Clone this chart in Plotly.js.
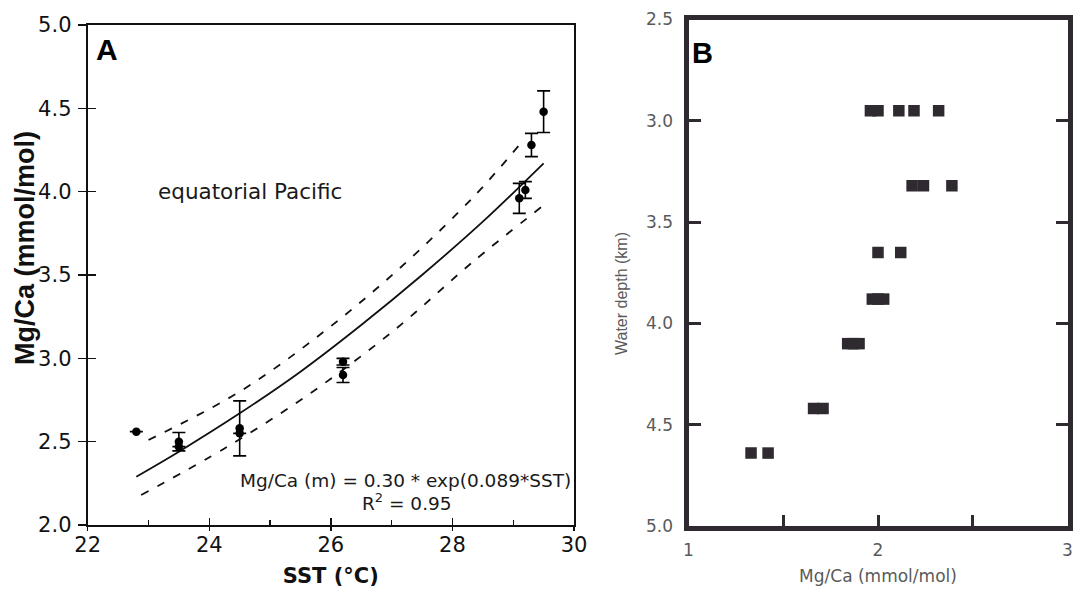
<!DOCTYPE html>
<html>
<head>
<meta charset="utf-8">
<script src="https://cdn.plot.ly/plotly-3.0.1.min.js"></script>
<style>html,body{margin:0;padding:0;background:#fff;}#chart{width:1075px;height:596px;}</style>
</head>
<body>
<div id="chart"></div>
<script>
// ---- Panel A: core-top Mg/Ca vs SST (equatorial Pacific) ----
const sst      = [22.8, 23.5, 23.5, 24.5, 24.5, 26.2, 26.2, 29.1, 29.2, 29.3, 29.5];
const mgca     = [2.56, 2.50, 2.47, 2.58, 2.55, 2.98, 2.90, 3.96, 4.01, 4.28, 4.48];
const mgcaErr  = [null, 0.055, null, 0.165, null, 0.02, 0.045, 0.09, 0.05, 0.07, 0.125];

// calibration curve and its bounds
const fitSst     = [22.8, 23.5, 24.5, 25.5, 26.5, 27.5, 28.5, 29.5];
const fitMgca    = [2.29, 2.44, 2.67, 2.92, 3.20, 3.50, 3.82, 4.17];
const upperSst   = [23.0, 24.5, 25.85, 27.1, 28.35, 29.1];
const upperMgca  = [2.51, 2.80, 3.15, 3.53, 3.97, 4.28];
const lowerSst   = [22.88, 24.3, 25.7, 27.08, 28.34, 29.47];
const lowerMgca  = [2.18, 2.47, 2.80, 3.18, 3.58, 3.91];

// ---- Panel B: Mg/Ca vs water depth ----
const coreMgCa  = [1.96, 2.00, 2.11, 2.19, 2.32,
                   2.18, 2.24, 2.39,
                   2.00, 2.12,
                   1.97, 2.00, 2.03,
                   1.84, 1.87, 1.90,
                   1.66, 1.71,
                   1.33, 1.42];
const coreDepth = [2.95, 2.95, 2.95, 2.95, 2.95,
                   3.32, 3.32, 3.32,
                   3.65, 3.65,
                   3.88, 3.88, 3.88,
                   4.10, 4.10, 4.10,
                   4.42, 4.42,
                   4.64, 4.64];

const xTicksA = [22, 24, 26, 28, 30];
const yTicksA = [2.0, 2.5, 3.0, 3.5, 4.0, 4.5, 5.0];
const xTicksB = [1, 2, 3];
const yTicksB = [2.5, 3.0, 3.5, 4.0, 4.5, 5.0];

const W = 1075, H = 596;
const px = v => v / W;
const py = v => (H - v) / H;

const INK = '#111111';
const INKB = '#2e2a30';
const GREY = '#5a5a5a';

const domXA = [px(87.7), px(574)];
const domYA = [py(525), py(25)];
const rangeXA = [22, 30];
const rangeYA = [2, 5];

const traces = [
  {x: fitSst, y: fitMgca, xaxis: 'x', yaxis: 'y', mode: 'lines', line: {color: INK, width: 1.8, shape: 'spline'}, hoverinfo: 'skip'},
  // the two bounds sit on twin axes with identical ranges (the twins carry the outward tick halves)
  {x: upperSst, y: upperMgca, xaxis: 'x3', yaxis: 'y3', mode: 'lines', line: {color: INK, width: 1.8, dash: '8px,10px', shape: 'spline'}, hoverinfo: 'skip'},
  {x: lowerSst, y: lowerMgca, xaxis: 'x3', yaxis: 'y3', mode: 'lines', line: {color: INK, width: 1.8, dash: '8px,10px', shape: 'spline'}, hoverinfo: 'skip'},
  {x: sst, y: mgca, xaxis: 'x', yaxis: 'y', mode: 'markers',
   marker: {color: '#000', size: 8.5, symbol: 'circle'},
   error_y: {type: 'data', array: mgcaErr, visible: true, color: '#000', thickness: 1.6, width: 6.5}},
  {x: coreMgCa, y: coreDepth, xaxis: 'x2', yaxis: 'y2', mode: 'markers',
   marker: {color: INKB, size: 11.5, symbol: 'square', line: {width: 0}}}
];

const tickFontA = {family: 'DejaVu Sans', size: 21, color: INK};
const tickFontB = {family: 'DejaVu Sans', size: 17, color: GREY};

const layout = {
  width: W, height: H,
  margin: {l: 0, r: 0, t: 0, b: 0, pad: 0},
  paper_bgcolor: '#fff', plot_bgcolor: 'rgba(0,0,0,0)',
  showlegend: false,
  // main axes of panel A: frame, labels and the inward half of the crossing ticks
  xaxis: {
    domain: domXA, range: rangeXA, anchor: 'y',
    showline: true, linecolor: INK, linewidth: 2, mirror: true,
    ticks: 'inside', ticklen: 7, tickwidth: 1.5, tickcolor: INK,
    tickvals: xTicksA, tickfont: tickFontA, ticklabelstandoff: 0,
    minor: {ticks: 'inside', dtick: 1, tick0: 22, ticklen: 5, tickwidth: 1.2, tickcolor: INK},
    showgrid: false, zeroline: false, automargin: false,
    title: {text: 'SST (°C)', font: {family: 'DejaVu Sans', size: 21, color: INK, weight: 'bold'}, standoff: 12}
  },
  yaxis: {
    domain: domYA, range: rangeYA, anchor: 'x',
    showline: true, linecolor: INK, linewidth: 2, mirror: true,
    ticks: 'inside', ticklen: 8, tickwidth: 1.5, tickcolor: INK,
    tickvals: yTicksA, tickformat: '.1f', tickfont: tickFontA, ticklabelstandoff: 10,
    showgrid: false, zeroline: false, automargin: false
  },
  xaxis3: {
    overlaying: 'x', anchor: 'y', side: 'bottom', range: rangeXA,
    ticks: 'outside', ticklen: 5, tickwidth: 1.5, tickcolor: INK, tickvals: xTicksA,
    showticklabels: false, showline: false, showgrid: false, zeroline: false
  },
  yaxis3: {
    overlaying: 'y', anchor: 'x', side: 'left', range: rangeYA,
    ticks: 'outside', ticklen: 9, tickwidth: 1.5, tickcolor: INK, tickvals: yTicksA,
    showticklabels: false, showline: false, showgrid: false, zeroline: false
  },
  xaxis2: {
    domain: [px(688.5), px(1067.5)], range: [1, 3], anchor: 'y2',
    showline: true, linecolor: INKB, linewidth: 5, mirror: true,
    ticks: 'inside', ticklen: 11, tickwidth: 3, tickcolor: INKB,
    tickvals: xTicksB, tickfont: tickFontB, ticklabelstandoff: 5,
    minor: {ticks: 'inside', dtick: 0.5, tick0: 1, ticklen: 11, tickwidth: 3, tickcolor: INKB},
    showgrid: false, zeroline: false, automargin: false,
    title: {text: 'Mg/Ca (mmol/mol)', font: {family: 'DejaVu Sans', size: 17, color: GREY}, standoff: 12}
  },
  yaxis2: {
    domain: [py(526), py(19.5)], range: [5.0, 2.5], anchor: 'x2',
    showline: true, linecolor: INKB, linewidth: 5, mirror: 'ticks',
    ticks: 'inside', ticklen: 12, tickwidth: 3, tickcolor: INKB,
    tickvals: yTicksB, tickformat: '.1f', tickfont: tickFontB, ticklabelstandoff: 7,
    showgrid: false, zeroline: false, automargin: false
  },
  annotations: [
    // y-axis titles (placed off-centre, as in the original)
    {text: '<b>Mg/Ca (mmol/mol)</b>', xref: 'paper', yref: 'paper', x: px(25), y: py(248), xanchor: 'center', yanchor: 'middle',
     textangle: -90, showarrow: false, font: {family: 'Liberation Sans', size: 27, color: INK}},
    {text: 'Water depth (km)', xref: 'paper', yref: 'paper', x: px(621), y: py(294), xanchor: 'center', yanchor: 'middle',
     textangle: -90, showarrow: false, font: {family: 'Liberation Sans', size: 16, color: GREY}},
    {text: '<b>A</b>', xref: 'paper', yref: 'paper', x: px(94), y: py(49), xanchor: 'left', yanchor: 'middle',
     showarrow: false, font: {family: 'Liberation Sans', size: 30, color: '#000'}},
    {text: '<b>B</b>', xref: 'paper', yref: 'paper', x: px(690), y: py(52.5), xanchor: 'left', yanchor: 'middle',
     showarrow: false, font: {family: 'Liberation Sans', size: 29, color: '#000'}},
    {text: 'equatorial Pacific', xref: 'x', yref: 'y', x: 23.12, y: 4.0, xanchor: 'left', yanchor: 'middle',
     showarrow: false, font: {family: 'DejaVu Sans', size: 21.5, color: '#1a1a1a'}},
    {text: 'Mg/Ca (m) = 0.30 * exp(0.089*SST)', xref: 'x', yref: 'y', x: 27.22, y: 2.27, xanchor: 'center', yanchor: 'middle',
     showarrow: false, font: {family: 'DejaVu Sans', size: 18.5, color: '#1a1a1a'}},
    {text: 'R<sup>2</sup> = 0.95', xref: 'x', yref: 'y', x: 27.25, y: 2.14, xanchor: 'center', yanchor: 'middle',
     showarrow: false, font: {family: 'DejaVu Sans', size: 18.5, color: '#1a1a1a'}}
  ]
};

Plotly.newPlot('chart', traces, layout, {staticPlot: true, displayModeBar: false});
</script>
</body>
</html>
